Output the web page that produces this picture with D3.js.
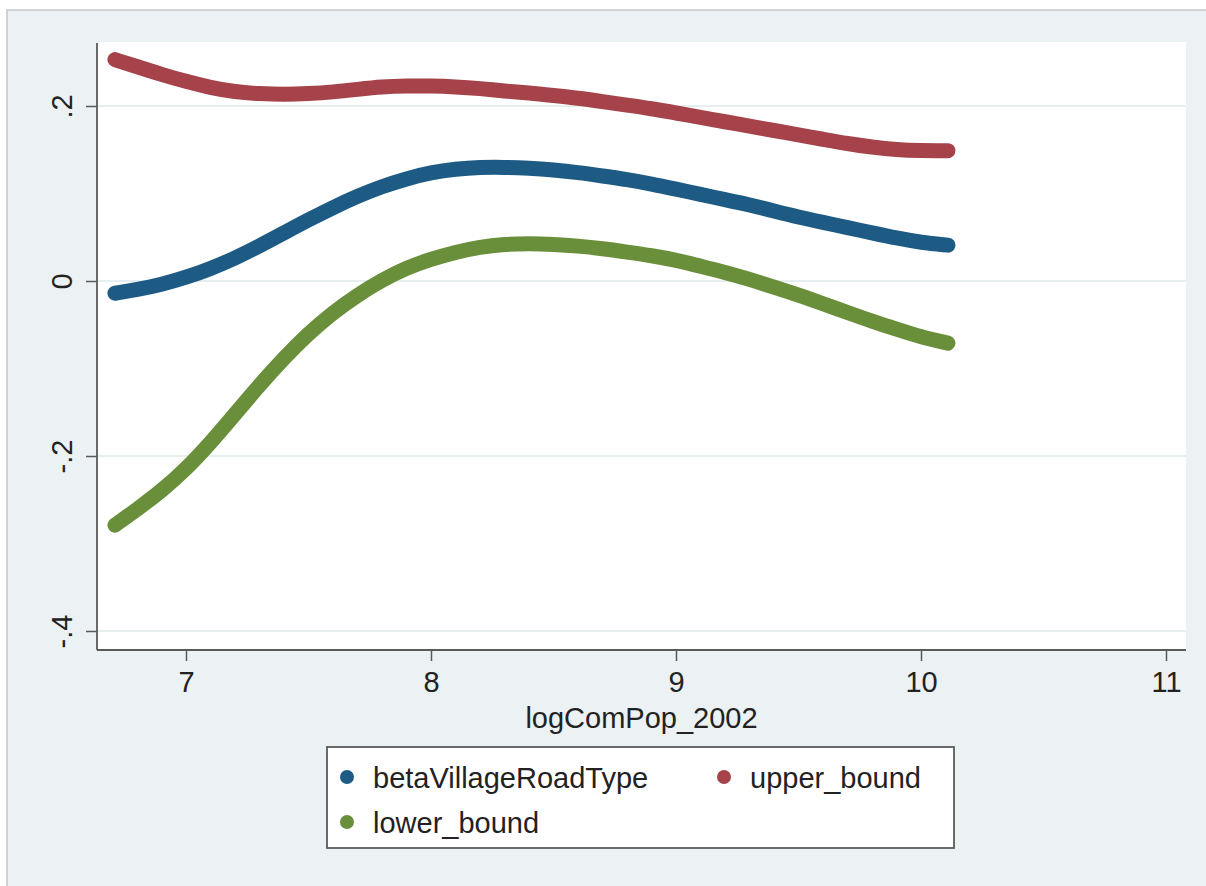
<!DOCTYPE html>
<html>
<head>
<meta charset="utf-8">
<script src="https://cdn.jsdelivr.net/npm/d3@7"></script>
<style>
  body { margin: 0; background: #fff; }
  text { font-family: "Liberation Sans", Arial, Helvetica, sans-serif; fill: #222; }
</style>
</head>
<body>
<svg id="chart"></svg>
<script>
// values, x = logComPop_2002
const xValues = [6.71, 6.8, 6.9, 7.0, 7.1, 7.2, 7.3, 7.4, 7.5, 7.6, 7.7, 7.8, 7.9, 8.0,
  8.1, 8.2, 8.3, 8.4, 8.5, 8.6, 8.7, 8.8, 8.9, 9.0, 9.1, 9.2, 9.3, 9.4, 9.5, 9.6,
  9.7, 9.8, 9.9, 10.0, 10.11];

const betaVillageRoadType = [-0.014, -0.010, -0.004, 0.004, 0.014, 0.026, 0.040, 0.055, 0.070, 0.084,
  0.097, 0.108, 0.117, 0.124, 0.128, 0.130, 0.130, 0.129, 0.127, 0.124,
  0.120, 0.116, 0.111, 0.105, 0.099, 0.093, 0.087, 0.080, 0.073, 0.067,
  0.061, 0.055, 0.049, 0.044, 0.041];

const upperBound = [0.253, 0.245, 0.236, 0.228, 0.221, 0.216, 0.214, 0.213, 0.214, 0.216,
  0.219, 0.222, 0.223, 0.223, 0.222, 0.220, 0.217, 0.215, 0.212, 0.209,
  0.205, 0.201, 0.197, 0.192, 0.187, 0.182, 0.177, 0.172, 0.167, 0.162,
  0.157, 0.153, 0.150, 0.149, 0.149];

const lowerBound = [-0.279, -0.261, -0.240, -0.215, -0.185, -0.152, -0.119, -0.088, -0.060, -0.036,
  -0.016, 0.001, 0.015, 0.025, 0.033, 0.039, 0.042, 0.043, 0.042, 0.040,
  0.037, 0.033, 0.029, 0.024, 0.017, 0.010, 0.002, -0.007, -0.016, -0.026,
  -0.036, -0.046, -0.055, -0.064, -0.071];

const xTicks = [7, 8, 9, 10, 11];
const yTicks = [-0.4, -0.2, 0, 0.2];
const yTickLabels = ["-.4", "-.2", "0", ".2"];

const seriesNames = ["betaVillageRoadType", "upper_bound", "lower_bound"];
const seriesColors = ["#1d5b85", "#a5424a", "#6a8f3a"];
const seriesValues = [betaVillageRoadType, upperBound, lowerBound];

const W = 1206, H = 886;
const plot = { left: 97, right: 1186, top: 42, bottom: 650 };

const svg = d3.select("#chart").attr("width", W).attr("height", H);

// outer graph region
svg.append("rect")
  .attr("x", 7).attr("y", 10)
  .attr("width", W - 6).attr("height", H)
  .attr("fill", "#ecf1f3")
  .attr("stroke", "#c4c6c8")
  .attr("stroke-width", 1.5);

// plot region
svg.append("rect")
  .attr("x", plot.left).attr("y", plot.top)
  .attr("width", plot.right - plot.left).attr("height", plot.bottom - plot.top)
  .attr("fill", "#ffffff");

const x = d3.scaleLinear().domain([7, 11]).range([186, 1166]);
const y = d3.scaleLinear().domain([0, 0.2]).range([281, 106]);

// grid lines
svg.append("g")
  .selectAll("line")
  .data(yTicks)
  .join("line")
  .attr("x1", plot.left).attr("x2", plot.right)
  .attr("y1", d => y(d)).attr("y2", d => y(d))
  .attr("stroke", "#e6eef0")
  .attr("stroke-width", 2);

// curves (dense markers in the original -> thick round line)
const line = d3.line()
  .x((d, i) => x(xValues[i]))
  .y(d => y(d))
  .curve(d3.curveBasis);

svg.append("g")
  .selectAll("path")
  .data(seriesValues)
  .join("path")
  .attr("d", d => line(d))
  .attr("fill", "none")
  .attr("stroke", (d, i) => seriesColors[i])
  .attr("stroke-width", 15)
  .attr("stroke-linecap", "round")
  .attr("stroke-linejoin", "round");

// axes
const xAxis = d3.axisBottom(x).tickValues(xTicks).tickSize(11).tickPadding(10).tickSizeOuter(0)
  .tickFormat(d3.format("d"));
const yAxis = d3.axisLeft(y).tickValues(yTicks).tickSize(11).tickSizeOuter(0)
  .tickFormat((d, i) => yTickLabels[i]);

const xAxisG = svg.append("g")
  .attr("transform", `translate(0,${plot.bottom})`)
  .call(xAxis);
const yAxisG = svg.append("g")
  .attr("transform", `translate(${plot.left},0)`)
  .call(yAxis);

[xAxisG, yAxisG].forEach(g => {
  g.select(".domain").remove();
  g.selectAll(".tick line").attr("stroke", "#5a5a5a").attr("stroke-width", 1.5);
  g.selectAll(".tick text").style("font-size", "29px").attr("fill", "#222");
});

yAxisG.selectAll(".tick text")
  .attr("transform", "rotate(-90)")
  .attr("x", 0).attr("y", -25).attr("dy", 0)
  .attr("text-anchor", "middle");

svg.append("line")
  .attr("x1", plot.left).attr("x2", plot.right)
  .attr("y1", plot.bottom).attr("y2", plot.bottom)
  .attr("stroke", "#5a5a5a").attr("stroke-width", 1.8);
svg.append("line")
  .attr("x1", plot.left).attr("x2", plot.left)
  .attr("y1", plot.top + 1).attr("y2", plot.bottom)
  .attr("stroke", "#5a5a5a").attr("stroke-width", 1.8);

// axis title
svg.append("text")
  .attr("x", (plot.left + plot.right) / 2)
  .attr("y", 728)
  .attr("text-anchor", "middle")
  .style("font-size", "29px")
  .text("logComPop_2002");

// legend
const legend = svg.append("g");
legend.append("rect")
  .attr("x", 327).attr("y", 747)
  .attr("width", 627).attr("height", 101)
  .attr("fill", "#fff")
  .attr("stroke", "#5a5a5a")
  .attr("stroke-width", 1.8);

const legendPos = [[347, 777], [724, 777], [347, 822]];
const items = legend.selectAll("g.item")
  .data(seriesNames)
  .join("g")
  .attr("class", "item")
  .attr("transform", (d, i) => `translate(${legendPos[i][0]},${legendPos[i][1]})`);

items.append("circle")
  .attr("r", 7)
  .attr("fill", (d, i) => seriesColors[i]);

items.append("text")
  .attr("x", 26)
  .attr("y", 11)
  .style("font-size", "29px")
  .text(d => d);
</script>
</body>
</html>
